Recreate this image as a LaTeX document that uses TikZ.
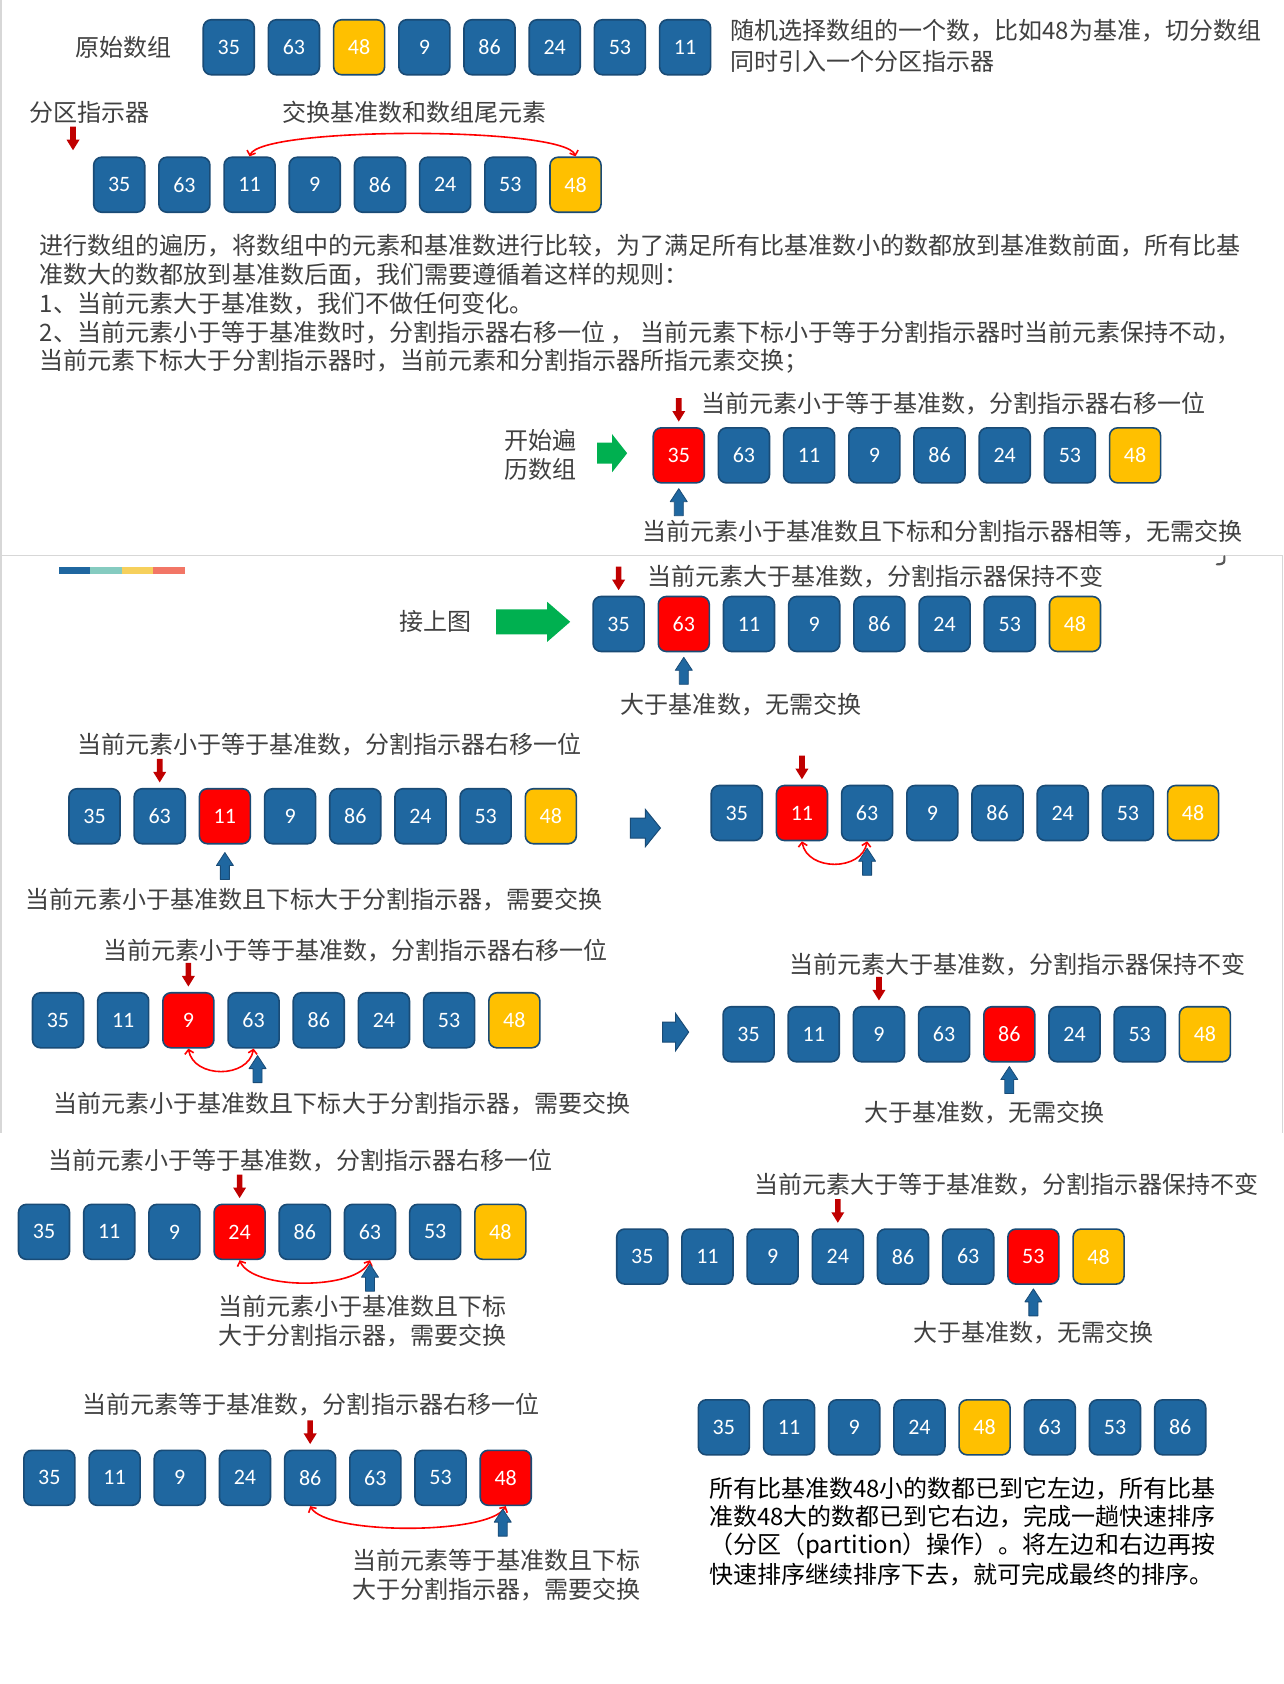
\documentclass[tikz,border=0pt]{standalone}
\usepackage{fontspec}
\setmainfont{Noto Sans CJK SC}
\newfontfamily\numfont{Carlito}
\usetikzlibrary{arrows.meta}
\definecolor{cb}{RGB}{31,103,160}
\definecolor{cbd}{RGB}{25,75,118}
\definecolor{cy}{RGB}{255,192,0}
\definecolor{cr}{RGB}{255,0,0}
\definecolor{dred}{RGB}{192,0,0}
\definecolor{cg}{RGB}{0,176,80}
\definecolor{tgray}{RGB}{64,64,64}
\definecolor{framec}{RGB}{215,215,215}
\definecolor{barteal}{RGB}{133,203,192}
\definecolor{baryel}{RGB}{246,208,92}
\definecolor{barsal}{RGB}{242,118,102}
\newcommand\cellrow[4]{\foreach \v/\c [count=\i] in {#4} {\node[cell, fill=\c] (#1-\i) at ({#2+(\i-1)*60.7},#3) {\v};}}
\begin{document}
\begin{tikzpicture}[x=1.0736pt,y=-1.0736pt,
  cell/.style={draw=cbd, line width=1.6pt, rounded corners=8pt, minimum width=51pt, minimum height=55pt, inner sep=0pt, text=white, font={\numfont\fontsize{22}{25}\selectfont}},
  lbl/.style={anchor=west, inner sep=0pt, text=tgray, font={\fontsize{24}{29}\selectfont}},
  para/.style={anchor=west, inner sep=0pt, text=tgray, font={\fontsize{24}{29}\selectfont}},
  fin/.style={anchor=west, inner sep=0pt, text=black, font={\fontsize{24}{29}\selectfont}},
  swp/.style={draw=cr, line width=1.6pt, arrows={Straight Barb[length=4pt,width=9pt]-Straight Barb[length=4pt,width=9pt]}},
  pics/rdown/.style={code={\fill[dred] (-2.8pt,0pt) -- (2.8pt,0pt) -- (2.8pt,-13pt) -- (6.5pt,-13pt) -- (0pt,-23.5pt) -- (-6.5pt,-13pt) -- (-2.8pt,-13pt) -- cycle;}},
  pics/bup/.style={code={\filldraw[fill=cb, draw=cbd, line width=0.8pt, line join=round] (-4.5pt,0pt) -- (4.5pt,0pt) -- (4.5pt,14pt) -- (8.5pt,14pt) -- (0pt,27pt) -- (-8.5pt,14pt) -- (-4.5pt,14pt) -- cycle;}},
  pics/blk/.style n args={4}{code={\path[pic actions] (0pt,{-#3*0.5pt}) -- ({(#1-#4)*1pt},{-#3*0.5pt}) -- ({(#1-#4)*1pt},{-#2*0.5pt}) -- ({#1*1pt},0pt) -- ({(#1-#4)*1pt},{#2*0.5pt}) -- ({(#1-#4)*1pt},{#3*0.5pt}) -- (0pt,{#3*0.5pt}) -- cycle;}}
]
\useasboundingbox (0,0) rectangle (1195,1568);
\fill[white] (0,0) rectangle (1195,1568);
% frames
\draw[framec, line width=1.5pt] (0.7,0) -- (0.7,1055);
\draw[framec, line width=1.5pt] (0,517) -- (1195,517);
\draw[framec, line width=1.5pt] (1194.3,517) -- (1194.3,1055);
\draw[black!65, line width=2.2pt, line cap=round] (1140,518) -- (1140,522) to[out=-90,in=0] (1133,525.5);
% colour bar
\fill[cb] (55,528) rectangle (84.25,534);
\fill[barteal] (84.25,528) rectangle (113.5,534);
\fill[baryel] (113.5,528) rectangle (142.75,534);
\fill[barsal] (142.75,528) rectangle (172,534);

% row 1
\node[lbl] (t1) at (70,44) {原始数组};
\cellrow{r1}{213}{44}{35/cb,63/cb,48/cy,9/cb,86/cb,24/cb,53/cb,11/cb}
\node[lbl] (t2) at (680,29) {随机选择数组的一个数，比如48为基准，切分数组};
\node[lbl] (t3) at (680,57) {同时引入一个分区指示器};

% row 2
\node[lbl] (t4) at (27,105) {分区指示器};
\pic at (68,118) {rdown};
\node[lbl] (t5) at (263,105) {交换基准数和数组尾元素};
\cellrow{r2}{111}{172}{35/cb,63/cb,11/cb,9/cb,86/cb,24/cb,53/cb,48/cy}
\draw[swp] (r2-3.north) .. controls +(10,-28) and +(-10,-28) .. (r2-8.north);

% paragraph
\node[para] (p1) at (37,229) {进行数组的遍历，将数组中的元素和基准数进行比较，为了满足所有比基准数小的数都放到基准数前面，所有比基};
\node[para] (p2) at (37,256) {准数大的数都放到基准数后面，我们需要遵循着这样的规则：};
\node[para] (p3) at (37,283) {1、当前元素大于基准数，我们不做任何变化。};
\node[para] (p4) at (37,310) {2、当前元素小于等于基准数时，分割指示器右移一位 ， 当前元素下标小于等于分割指示器时当前元素保持不动，};
\node[para] (p5) at (37,336) {当前元素下标大于分割指示器时，当前元素和分割指示器所指元素交换；};

% row 3
\node[lbl, align=left] (t6) at (470,424) {开始遍\\历数组};
\pic[fill=cg] at (556,422) {blk={30}{38}{21}{15}};
\cellrow{r3}{632}{424}{35/cr,63/cb,11/cb,9/cb,86/cb,24/cb,53/cb,48/cy}
\pic at ([yshift=29pt]r3-1.north) {rdown};
\node[lbl] (t7) at (653,376) {当前元素小于等于基准数，分割指示器右移一位};
\pic at ([yshift=-32pt]r3-1.south) {bup};
\node[lbl] (t8) at (598,495) {当前元素小于基准数且下标和分割指示器相等，无需交换};

% row 4
\node[lbl] (t9) at (372,579) {接上图};
\pic[fill=cg] at (462,579) {blk={74}{40}{25}{23}};
\cellrow{r4}{576}{581}{35/cb,63/cr,11/cb,9/cb,86/cb,24/cb,53/cb,48/cy}
\pic at ([yshift=29pt]r4-1.north) {rdown};
\node[lbl] (t10) at (603,537) {当前元素大于基准数，分割指示器保持不变};
\pic at ([yshift=-32pt]r4-2.south) {bup};
\node[lbl] (t11) at (578,656) {大于基准数，无需交换};

% row 5 left
\node[lbl] (t12) at (72,693) {当前元素小于等于基准数，分割指示器右移一位};
\cellrow{r5a}{88}{760}{35/cb,63/cb,11/cr,9/cb,86/cb,24/cb,53/cb,48/cy}
\pic at ([yshift=29pt]r5a-2.north) {rdown};
\pic at ([yshift=-35pt]r5a-3.south) {bup};
\node[lbl] (t13) at (24,838) {当前元素小于基准数且下标大于分割指示器，需要交换};
\pic[fill=cb, draw=cbd, line width=1pt] at (587,771) {blk={30}{37}{20}{15}};

% row 5 right
\cellrow{r5b}{686}{757}{35/cb,11/cr,63/cb,9/cb,86/cb,24/cb,53/cb,48/cy}
\pic at ([yshift=29pt]r5b-2.north) {rdown};
\draw[swp] (r5b-2.south) .. controls +(5,28) and +(-5,28) .. (r5b-3.south);
\pic at ([yshift=-34pt]r5b-3.south) {bup};

% row 6 left
\node[lbl] (t14) at (96,885) {当前元素小于等于基准数，分割指示器右移一位};
\cellrow{r6a}{54}{950}{35/cb,11/cb,9/cr,63/cb,86/cb,24/cb,53/cb,48/cy}
\pic at ([yshift=29pt]r6a-3.north) {rdown};
\draw[swp] (r6a-3.south) .. controls +(5,28) and +(-5,28) .. (r6a-4.south);
\pic at ([xshift=4pt,yshift=-34pt]r6a-4.south) {bup};
\node[lbl] (t15) at (50,1028) {当前元素小于基准数且下标大于分割指示器，需要交换};
\pic[fill=cb, draw=cbd, line width=1pt] at (617,961) {blk={26}{37}{20}{13}};

% row 6 right
\node[lbl] (t16) at (735,898) {当前元素大于基准数，分割指示器保持不变};
\cellrow{r6b}{697}{963}{35/cb,11/cb,9/cb,63/cb,86/cr,24/cb,53/cb,48/cy}
\pic at ([yshift=29pt]r6b-3.north) {rdown};
\pic at ([yshift=-31pt]r6b-5.south) {bup};
\node[lbl] (t17) at (805,1036) {大于基准数，无需交换};

% row 7 left
\node[lbl] (t18) at (45,1081) {当前元素小于等于基准数，分割指示器右移一位};
\cellrow{r7a}{41}{1147}{35/cb,11/cb,9/cb,24/cr,86/cb,63/cb,53/cb,48/cy}
\pic at ([yshift=29pt]r7a-4.north) {rdown};
\draw[swp] (r7a-4.south) .. controls +(12,28) and +(-12,28) .. (r7a-6.south);
\pic at ([yshift=-31pt]r7a-6.south) {bup};
\node[lbl, align=left] (t19) at (203,1230.5) {当前元素小于基准数且下标\\大于分割指示器，需要交换};

% row 7 right
\node[lbl] (t20) at (702,1103) {当前元素大于等于基准数，分割指示器保持不变};
\cellrow{r7b}{598}{1170}{35/cb,11/cb,9/cb,24/cb,86/cb,63/cb,53/cr,48/cy}
\pic at ([yshift=29pt]r7b-4.north) {rdown};
\pic at ([yshift=-31pt]r7b-7.south) {bup};
\node[lbl] (t21) at (850,1241) {大于基准数，无需交换};

% row 8 left
\node[lbl] (t22) at (77,1308) {当前元素等于基准数，分割指示器右移一位};
\cellrow{r8a}{46}{1376}{35/cb,11/cb,9/cb,24/cb,86/cb,63/cb,53/cb,48/cr}
\pic at ([yshift=29pt]r8a-5.north) {rdown};
\draw[swp] (r8a-5.south) .. controls +(15,27) and +(-15,27) .. (r8a-8.south);
\pic at ([xshift=-3pt,yshift=-30pt]r8a-8.south) {bup};
\node[lbl, align=left] (t23) at (328,1466.5) {当前元素等于基准数且下标\\大于分割指示器，需要交换};

% row 8 right
\cellrow{r8b}{674}{1329}{35/cb,11/cb,9/cb,24/cb,48/cy,63/cb,53/cb,86/cb}
\node[fin] (f1) at (660,1386) {所有比基准数48小的数都已到它左边，所有比基};
\node[fin] (f2) at (660,1412) {准数48大的数都已到它右边，完成一趟快速排序};
\node[fin] (f3) at (660,1439) {（分区（partition）操作）。将左边和右边再按};
\node[fin] (f4) at (660,1466) {快速排序继续排序下去，就可完成最终的排序。};
\end{tikzpicture}
\end{document}
